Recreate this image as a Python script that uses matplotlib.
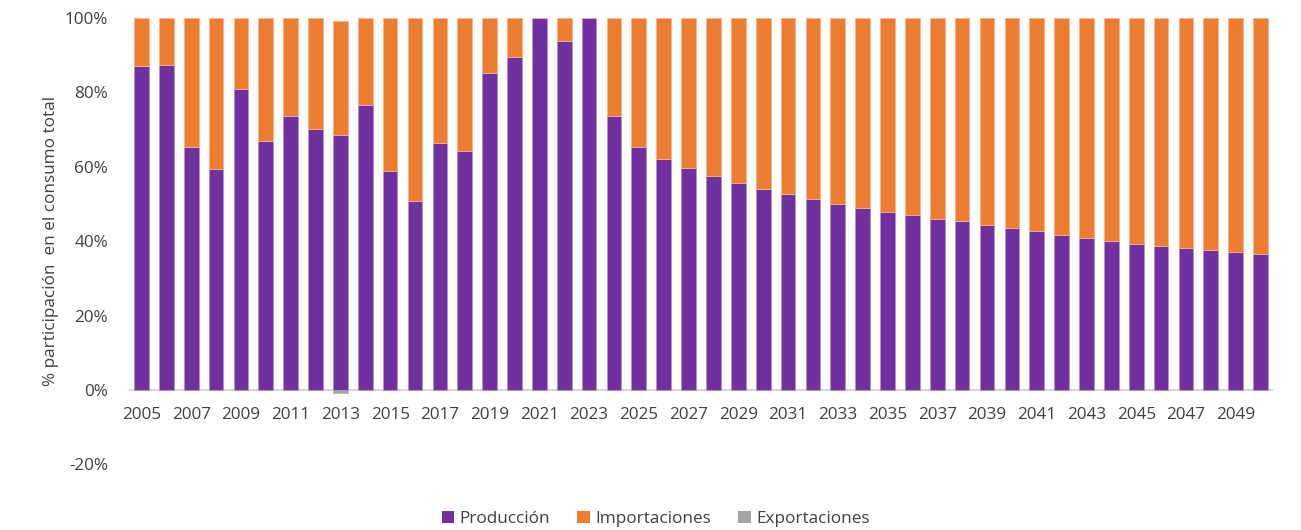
import matplotlib
matplotlib.use("Agg")
import matplotlib.pyplot as plt
import numpy as np

years = list(range(2005, 2051))
produccion = [87.2, 87.5, 65.2, 59.5, 80.9, 66.9, 73.6, 70.2, 68.6, 76.7,
              58.8, 50.9, 66.3, 64.3, 85.3, 89.4, 100.0, 93.9, 100.0, 73.7,
              65.2, 62.2, 59.8, 57.6, 55.7, 54.1, 52.8, 51.3, 50.1, 49.0,
              47.9, 47.0, 46.1, 45.3, 44.4, 43.6, 42.8, 41.7, 40.9, 40.1,
              39.3, 38.8, 38.3, 37.7, 37.2, 36.6]
exportaciones = [0.0] * 46
exportaciones[years.index(2013)] = -0.7
importaciones = [100.0 - p for p in produccion]
importaciones[years.index(2013)] = 99.3 - produccion[years.index(2013)]

c_prod = "#7030A0"
c_imp = "#ED7D31"
c_exp = "#A5A5A5"
txt = "#404040"
fs = 12.3

plt.rcParams["font.family"] = ["Open Sans", "DejaVu Sans"]

fig = plt.figure(figsize=(13.01, 5.30), dpi=100)
ax = fig.add_axes([129 / 1301, 1 - 464.4 / 530, (1273 - 129) / 1301, (464.4 - 18) / 530])

x = np.arange(len(years))
w = 0.59
ax.bar(x, produccion, w, color=c_prod, edgecolor="#B48FD0", linewidth=0.6, label="Producción")
ax.bar(x, importaciones, w, bottom=produccion, color=c_imp, edgecolor="#F5B58A",
       linewidth=0.6, label="Importaciones")
ax.bar(x, exportaciones, w, color=c_exp, edgecolor=c_exp, linewidth=0.4, label="Exportaciones")

ax.set_xlim(-0.5, len(years) - 0.5)
ax.set_ylim(-20, 100)
ax.set_yticks(np.arange(-20, 101, 20))
ax.set_yticklabels([f"{v}%" for v in range(-20, 101, 20)])

for s in ["top", "right", "left", "bottom"]:
    ax.spines[s].set_visible(False)
ax.axhline(0, color="#D9D9D9", linewidth=1.5, zorder=0.5)

# year labels every second bar, hung just below the zero line
ax.set_xticks([])
for xi, yr in zip(x[::2], years[::2]):
    ax.text(xi, -6.8, str(yr), ha="center", va="center", fontsize=fs, color=txt)

ax.tick_params(axis="y", length=0, labelsize=fs, colors=txt, pad=15)
ax.set_ylabel("% participación  en el consumo total", fontsize=fs, color=txt, labelpad=4)

leg = fig.legend(loc="center", bbox_to_anchor=(0.504, 1 - 519 / 530), ncol=3, frameon=False,
                 fontsize=fs, handlelength=0.75, handleheight=0.75, handletextpad=0.3,
                 columnspacing=1.6, labelcolor=txt)
for h in leg.legend_handles:
    h.set_linewidth(0)

fig.savefig("out.png", dpi=100)
